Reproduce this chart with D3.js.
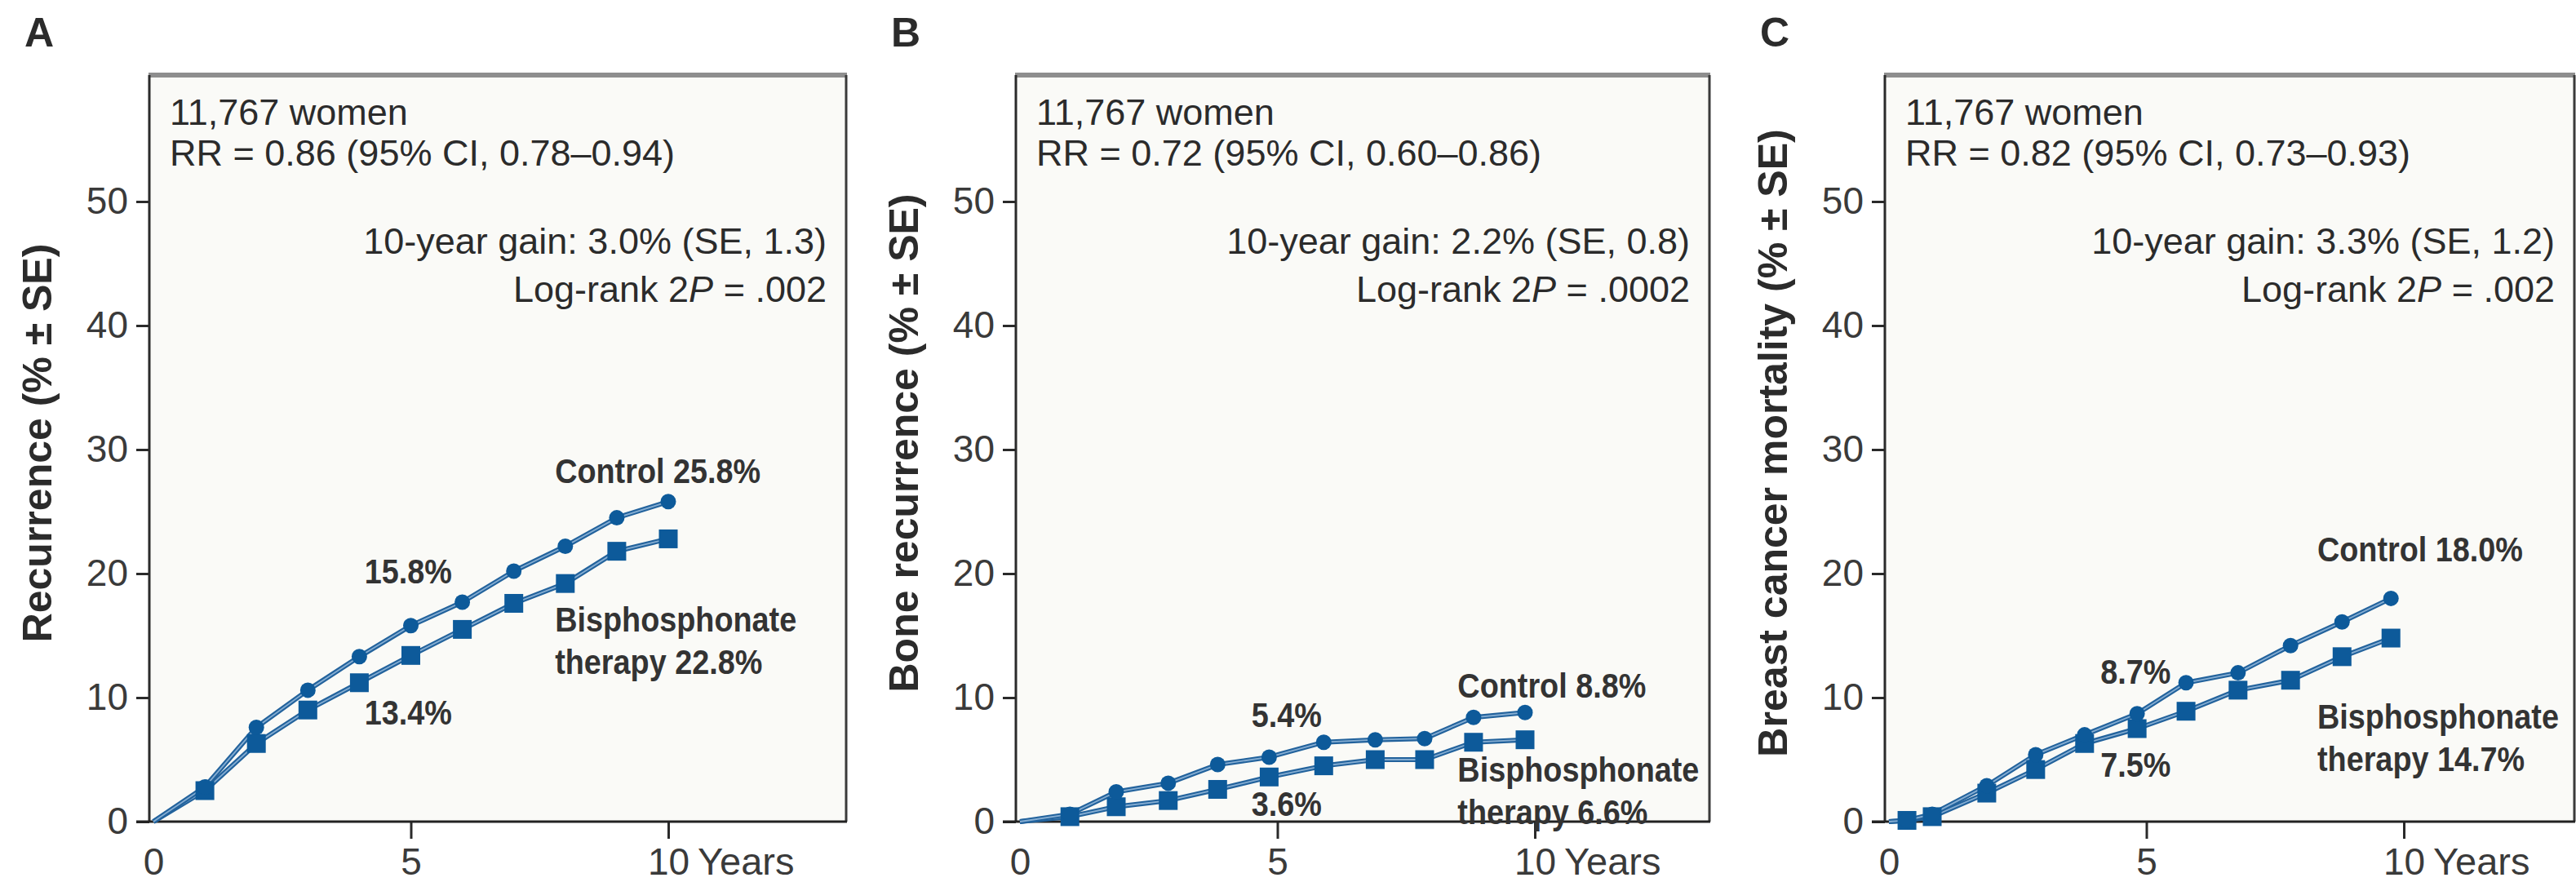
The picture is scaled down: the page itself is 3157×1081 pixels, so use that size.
<!DOCTYPE html>
<meta charset="utf-8">
<style>
  body { margin: 0; background: #fff; }
  text { font-family: "Liberation Sans", Arial, sans-serif; fill: #2b2b2b; }
</style>
<body>
<svg id="chart" width="3157" height="1081"></svg>
<script src="https://d3js.org/d3.v7.min.js"></script>
<script>
// values (cumulative %, by years since randomisation)
var panelIds = ["A", "B", "C"];
var yTitles = ["Recurrence (% \u00b1 SE)", "Bone recurrence (% \u00b1 SE)", "Breast cancer mortality (% \u00b1 SE)"];
var womenText = "11,767 women";
var rrText = ["RR = 0.86 (95% CI, 0.78\u20130.94)", "RR = 0.72 (95% CI, 0.60\u20130.86)", "RR = 0.82 (95% CI, 0.73\u20130.93)"];
var gainText = ["10-year gain: 3.0% (SE, 1.3)", "10-year gain: 2.2% (SE, 0.8)", "10-year gain: 3.3% (SE, 1.2)"];
var pValues = [".002", ".0002", ".002"];

var yearsA = [0, 1, 2, 3, 4, 5, 6, 7, 8, 9, 10];
var controlA = [0, 2.8, 7.6, 10.6, 13.3, 15.8, 17.7, 20.2, 22.2, 24.5, 25.8];
var bisA = [0, 2.5, 6.3, 9.0, 11.2, 13.4, 15.5, 17.6, 19.2, 21.8, 22.8];

var yearsB = [0, 0.97, 1.87, 2.88, 3.84, 4.84, 5.9, 6.9, 7.86, 8.81, 9.81];
var controlB = [0, 0.6, 2.4, 3.1, 4.6, 5.2, 6.4, 6.6, 6.7, 8.4, 8.8];
var bisB = [0, 0.4, 1.2, 1.7, 2.6, 3.6, 4.5, 5.0, 5.0, 6.4, 6.6];

var yearsC = [0, 0.35, 0.84, 1.9, 2.85, 3.8, 4.82, 5.77, 6.78, 7.8, 8.8, 9.75];
var controlC = [0, 0.1, 0.6, 2.9, 5.4, 7.0, 8.7, 11.2, 12.0, 14.2, 16.1, 18.0];
var bisC = [0, 0.1, 0.4, 2.3, 4.2, 6.3, 7.5, 8.9, 10.6, 11.4, 13.3, 14.8];

var midLabels = [["15.8%", "13.4%"], ["5.4%", "3.6%"], ["8.7%", "7.5%"]];
var controlLabels = ["Control 25.8%", "Control 8.8%", "Control 18.0%"];
var bisLabels = ["therapy 22.8%", "therapy 6.6%", "therapy 14.7%"];

var xTicks = [0, 5, 10];
var yTicks = [0, 10, 20, 30, 40, 50];

// layout
var panelLeft = [183, 1245, 2310],
    panelWidth = [854, 850, 845],
    boxTop = 92,
    axisY = 1007,
    yearPx = 63.1;
// label anchors in data units: [x, y upper, y lower]
var midPos = [[4.95, 19.2, 7.8], [5.18, 7.6, 0.45], [4.79, 11.1, 3.65]];
var endPos = [[7.8, 27.3, 15.3], [8.5, 10.0, 3.2], [8.32, 21.0, 7.5]];

var blue = "#0d5a9a";
var svg = d3.select("#chart");
svg.append("rect").attr("width", 3157).attr("height", 1081).attr("fill", "#fff");

var series = [
  {years: yearsA, control: controlA, bis: bisA},
  {years: yearsB, control: controlB, bis: bisB},
  {years: yearsC, control: controlC, bis: bisC}
];

panelIds.forEach(function(id, i){
  var left = panelLeft[i], right = left + panelWidth[i];
  var x = d3.scaleLinear().domain([0, 10]).range([left + 5, left + 5 + 10 * yearPx]);
  var y = d3.scaleLinear().domain([0, 50]).range([axisY, axisY - 50 * 15.2]);
  var g = svg.append("g");

  // panel frame
  g.append("rect").attr("x", left).attr("y", boxTop)
    .attr("width", right - left).attr("height", axisY - boxTop)
    .attr("fill", "#fafaf7");
  g.append("line").attr("x1", left - 1).attr("x2", right + 1).attr("y1", boxTop).attr("y2", boxTop)
    .attr("stroke", "#8e8e8e").attr("stroke-width", 6);
  g.append("line").attr("x1", right).attr("x2", right).attr("y1", boxTop).attr("y2", axisY)
    .attr("stroke", "#3a3a3a").attr("stroke-width", 3);
  g.append("line").attr("x1", left).attr("x2", left).attr("y1", boxTop).attr("y2", axisY)
    .attr("stroke", "#2a2a2a").attr("stroke-width", 3);

  // axes
  var yAxis = g.append("g").attr("transform", "translate(" + left + ",0)")
    .call(d3.axisLeft(y).tickValues(yTicks).tickSize(16).tickPadding(10));
  var xAxis = g.append("g").attr("transform", "translate(0," + axisY + ")")
    .call(d3.axisBottom(x).tickValues(xTicks).tickSize(21).tickPadding(11));
  [yAxis, xAxis].forEach(function(a){
    a.select(".domain").remove();
    a.selectAll("line").attr("stroke", "#2a2a2a").attr("stroke-width", 3);
    a.selectAll("text").attr("font-size", 46).attr("font-family", null).style("fill", "#3a3a3a");
  });
  xAxis.selectAll(".tick").filter(function(d){ return d === 0; }).select("line").remove();
  g.append("line").attr("x1", left - 16).attr("x2", right + 1).attr("y1", axisY).attr("y2", axisY)
    .attr("stroke", "#222").attr("stroke-width", 3);
  g.append("text").attr("x", x(10) + 36).attr("y", axisY + 65)
    .attr("font-size", 47).style("fill", "#3a3a3a").text("Years");

  // panel letter and y title
  g.append("text").attr("x", left - 153).attr("y", 57)
    .attr("font-size", 50).attr("font-weight", "bold").text(id);
  g.append("text").attr("transform", "translate(" + (left - 120) + ",543) rotate(-90)")
    .attr("text-anchor", "middle").attr("font-size", 50).attr("font-weight", "bold")
    .text(yTitles[i]);

  // header text
  g.append("text").attr("x", left + 25).attr("y", 153).attr("font-size", 45).text(womenText);
  g.append("text").attr("x", left + 25).attr("y", 203).attr("font-size", 45).text(rrText[i]);
  g.append("text").attr("x", right - 24).attr("y", 311).attr("font-size", 45)
    .attr("text-anchor", "end").text(gainText[i]);
  var pt = g.append("text").attr("x", right - 24).attr("y", 370).attr("font-size", 45)
    .attr("text-anchor", "end");
  pt.append("tspan").text("Log-rank 2");
  pt.append("tspan").attr("font-style", "italic").text("P");
  pt.append("tspan").text(" = " + pValues[i]);

  // curves
  var s = series[i];
  var pts = function(vals){ return vals.map(function(v, k){ return [s.years[k], v]; }); };
  var line = d3.line().x(function(d){ return x(d[0]); }).y(function(d){ return y(d[1]); });
  [s.bis, s.control].forEach(function(vals){
    g.append("path").attr("d", line(pts(vals))).attr("fill", "none")
      .attr("stroke", "#22629c").attr("stroke-width", 6).attr("stroke-linejoin", "round");
    g.append("path").attr("d", line(pts(vals))).attr("fill", "none")
      .attr("stroke", "#86aed3").attr("stroke-width", 1.8);
  });
  g.selectAll(".sq").data(pts(s.bis).slice(1)).enter().append("rect")
    .attr("x", function(d){ return x(d[0]) - 11.5; })
    .attr("y", function(d){ return y(d[1]) - 11.5; })
    .attr("width", 23).attr("height", 23).attr("fill", blue);
  g.selectAll(".dot").data(pts(s.control).slice(1)).enter().append("circle")
    .attr("cx", function(d){ return x(d[0]); })
    .attr("cy", function(d){ return y(d[1]); })
    .attr("r", 9.5).attr("fill", blue);

  // curve labels (bold, slightly condensed)
  function boldLabel(tx, ty, txt, anchor){
    g.append("text").attr("transform", "translate(" + tx + "," + ty + ") scale(0.9,1)")
      .attr("font-size", 42).attr("font-weight", "bold").attr("text-anchor", anchor)
      .style("fill", "#333").text(txt);
  }
  var mp = midPos[i], ep = endPos[i];
  boldLabel(x(mp[0]), y(mp[1]), midLabels[i][0], "middle");
  boldLabel(x(mp[0]), y(mp[2]), midLabels[i][1], "middle");
  boldLabel(x(ep[0]), y(ep[1]), controlLabels[i], "start");
  boldLabel(x(ep[0]), y(ep[2]), "Bisphosphonate", "start");
  boldLabel(x(ep[0]), y(ep[2]) + 52, bisLabels[i], "start");
});
</script>
</body>
